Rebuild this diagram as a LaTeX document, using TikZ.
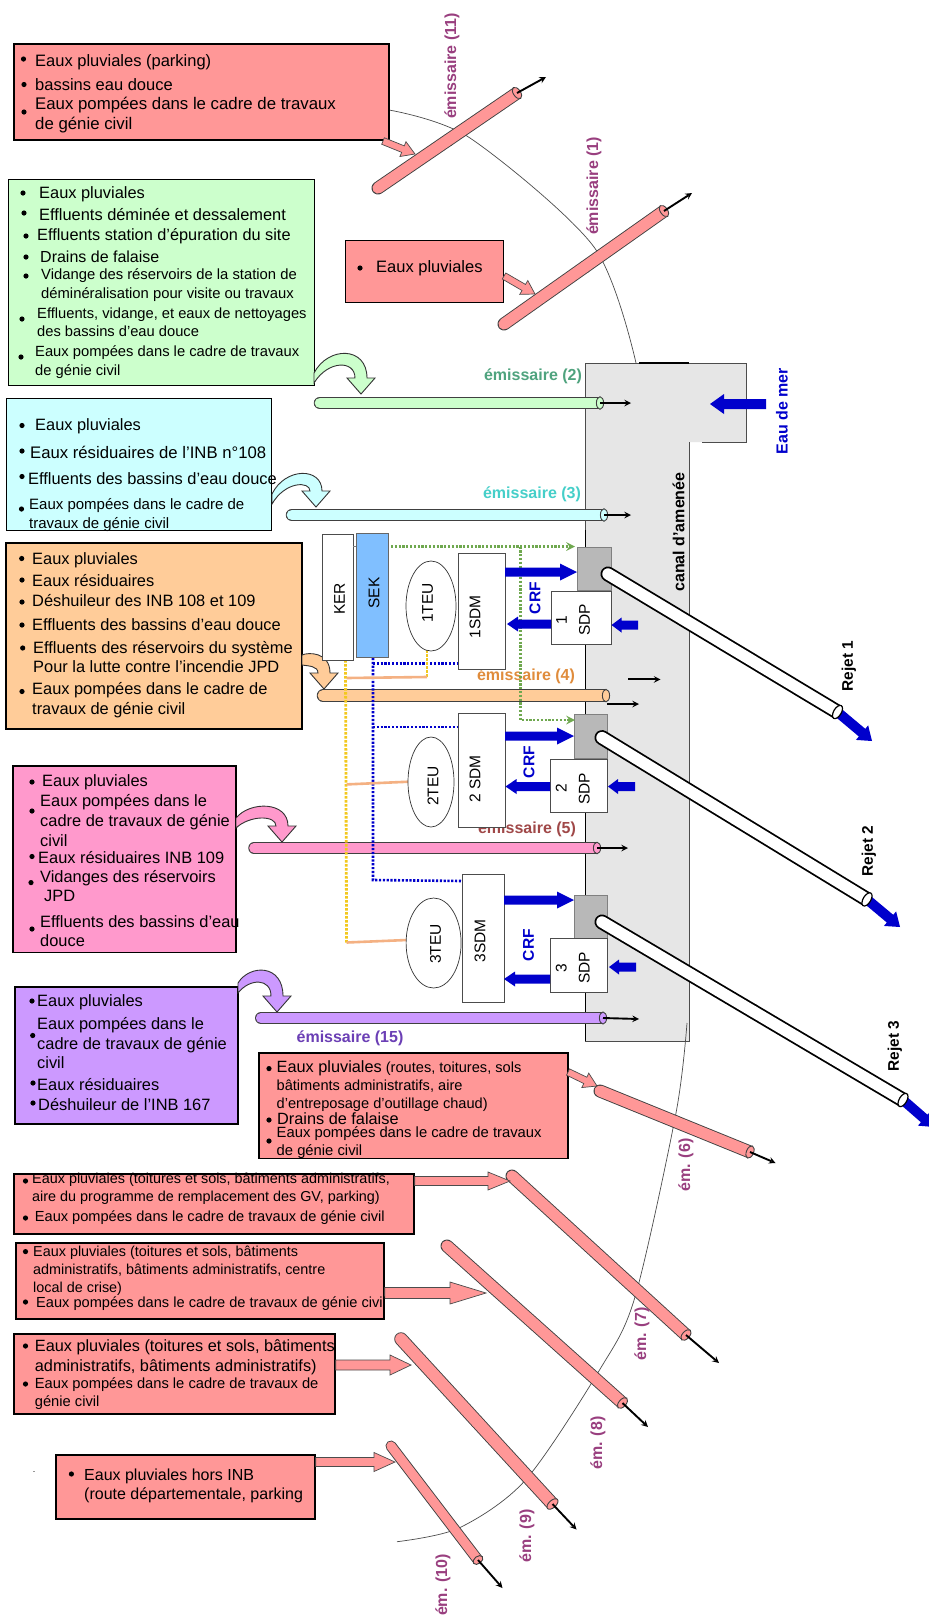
\documentclass[tikz,border=0pt]{standalone}
\usepackage{fontspec}
\setmainfont{Liberation Sans}
\usetikzlibrary{calc,shapes.geometric}
\newlength{\du}
\setlength{\du}{1pt}
\definecolor{rougeb}{HTML}{FF9797}
\definecolor{vertb}{HTML}{CCFFCC}
\definecolor{cyanb}{HTML}{CCFFFF}
\definecolor{orangeb}{HTML}{FFCC99}
\definecolor{roseb}{HTML}{FF99CC}
\definecolor{violetb}{HTML}{CC99FF}
\definecolor{canalgris}{HTML}{E6E6E6}
\definecolor{bleuf}{HTML}{0000CC}
\definecolor{prune}{HTML}{993F7F}
\definecolor{nomv}{HTML}{4FA37E}
\definecolor{nomc}{HTML}{45CFC9}
\definecolor{nomo}{HTML}{E08C3C}
\definecolor{nomr}{HTML}{A04848}
\definecolor{nomw}{HTML}{6B3FB5}
\definecolor{jaunep}{HTML}{F2C81E}
\definecolor{saumonl}{HTML}{F4B183}
\definecolor{vertp}{HTML}{6FA84F}
\tikzset{
  boite/.style={rectangle,draw=black,line width=1.3pt,inner sep=0pt},
  equip/.style={rectangle,draw=black!70,line width=.7pt,fill=white,inner sep=0pt,text=black},
  teu/.style={ellipse,draw=black!80,line width=.7pt,fill=white,inner sep=0pt},
  vertical/.style={rotate=90,inner sep=0pt,align=center},
  nomem/.style={vertical,font=\fontsize{16}{18}\selectfont\bfseries,text=prune},
  nomh/.style={inner sep=0pt,font=\fontsize{16}{18}\selectfont\bfseries},
  sigle/.style={vertical,font=\fontsize{15.5}{23}\selectfont},
  sortie/.style={-stealth,line width=1.9pt,black},
  fluxb/.style={fill=bleuf,draw=none},
  flux/.style={fill=rougeb,draw=black!70,line width=.7pt},
  pointv/.style={line width=2.8pt,dash pattern=on 2.2pt off 1.6pt,color=vertp},
  pointb/.style={line width=2.6pt,dash pattern=on 2.2pt off 1.6pt,color=bleuf},
  pointj/.style={line width=2.8pt,dash pattern=on 2.6pt off 1.4pt,color=jaunep},
  saumon/.style={line width=2.6pt,color=saumonl},
}
% bullet item: name, text x, text y, bullet x, bullet y, size, text
\newcommand{\puce}[7]{%
  \pgfmathsetmacro{\lgn}{0.84*#6+5.8}
  \fill (#4,#5) circle (2.6);
  \node[anchor=west,align=left,inner sep=0pt,font=\fontsize{#6}{\lgn}\selectfont] (#1) at (#2,#3) {#7};
}
% pipe: start, end, fill, width
\newcommand{\tuyau}[4]{%
  \coordinate (tm) at ($(#1)!.5!(#2)$);
  \draw[line width=#4pt,black!75,line cap=round] (#1) -- (tm);
  \draw[line width=#4pt,black!75] (tm) -- (#2);
  \draw[line width=#4pt-1.8pt,#3,line cap=round] (#1) -- (tm);
  \draw[line width=#4pt-1.8pt,#3] (tm) -- (#2);
  \draw[black!75,line width=.9pt,fill=#3] let \p1=($(#2)-(#1)$), \n1={atan2(\y1,\x1)} in
    (#2) circle[x radius=3.6pt,y radius=#4pt/2,rotate=\n1];
}
% outlet pipe with a heavy edge
\newcommand{\rejet}[2]{%
  \coordinate (tm) at ($(#1)!.5!(#2)$);
  \draw[line width=15pt,black,line cap=round] (#1) -- (tm);
  \draw[line width=15pt,black] (tm) -- (#2);
  \draw[line width=11.4pt,white,line cap=round] (#1) -- (tm);
  \draw[line width=11.4pt,white] (tm) -- (#2);
  \draw[black,line width=1.2pt,fill=white] let \p1=($(#2)-(#1)$), \n1={atan2(\y1,\x1)} in
    (#2) circle[x radius=3.8pt,y radius=7.4pt,rotate=\n1];
}
% block arrow: options, start, tip, half shaft, half head, head length
\newcommand{\fleche}[6]{%
  \coordinate (fb) at ($(#3)!#6pt!(#2)$);
  \draw[#1] ($(#2)!#4pt!90:(#3)$) -- ($(fb)!#4pt!90:(#3)$) -- ($(fb)!#5pt!90:(#3)$) -- (#3)
    -- ($(fb)!#5pt!-90:(#3)$) -- ($(fb)!#4pt!-90:(#3)$) -- ($(#2)!#4pt!-90:(#3)$) -- cycle;
}
% bent arrow: fill, start, tip, height
\newcommand{\courbe}[4]{%
  \draw[black!80,line width=.9pt,fill=#1] let \p1=(#2), \p2=(#3) in
    (\x1,\y1+5pt) .. controls ({\x1+0.3*(\x2-\x1)},{\y1+#4pt}) and ({\x2+6pt},{\y1+#4pt}) .. ({\x2+6pt},{\y2+16pt})
    -- ({\x2+14pt},{\y2+16pt}) -- (\x2,\y2) -- ({\x2-14pt},{\y2+16pt}) -- ({\x2-6pt},{\y2+16pt})
    .. controls ({\x2-6pt},{\y1+#4pt-14pt}) and ({\x1+0.3*(\x2-\x1)},{\y1+#4pt-14pt}) .. (\x1,\y1-5pt) -- cycle;
}
\begin{document}
\begin{tikzpicture}[x=\du,y=-\du]
\clip (0,0) rectangle (929,1615);
\fill[white] (0,0) rectangle (929,1615);
% canal
\fill[canalgris] (585,363) -- (746,363) -- (746,442) -- (689,442) -- (689,1041) -- (585,1041) -- cycle;
\draw[black!70,line width=.8pt] (702,442) -- (746,442) -- (746,363) -- (585,363) -- (585,530);
\draw[black!70,line width=.8pt] (689,442) -- (689,1041) -- (585,1041);
\draw[line width=1.2pt] (639,363) -- (689,363);
\draw[line width=.9pt] (585,530) -- (585,1041);
% arcs
\draw[black!70,line width=.7pt] plot[smooth] coordinates {(389,110) (470,138) (594,247) (636,363)};
\draw[black!70,line width=.7pt] plot[smooth] coordinates {(687,1023) (676,1113) (635,1297) (599.5,1370) (525.5,1480) (459,1528) (397,1541.7)};
% boxes
\node[boite,fill=rougeb,minimum width=375,minimum height=96] (b11) at (201.5,92) {};
\node[boite,line width=.8pt,fill=rougeb,minimum width=158,minimum height=62] (b1) at (424,271) {};
\node[boite,line width=.8pt,fill=vertb,minimum width=306,minimum height=206] (b2) at (161,282) {};
\node[boite,line width=.8pt,fill=cyanb,minimum width=265,minimum height=132] (b3) at (139,464) {};
\node[boite,fill=orangeb,minimum width=296,minimum height=186] (b4) at (154,636) {};
\node[boite,fill=roseb,minimum width=223,minimum height=186.5] (b5) at (124.5,859.25) {};
\node[boite,fill=violetb,minimum width=223,minimum height=137] (b15) at (126.5,1055.5) {};
\node[boite,fill=rougeb,minimum width=309,minimum height=105.5] (b6) at (413.5,1105.75) {};
\node[boite,fill=rougeb,minimum width=400,minimum height=60] (b7) at (214,1204) {};
\node[boite,fill=rougeb,minimum width=368,minimum height=76] (b8) at (200,1281) {};
\node[boite,fill=rougeb,minimum width=321,minimum height=80] (b9) at (174.5,1374) {};
\node[boite,fill=rougeb,minimum width=259,minimum height=64] (b10) at (185.5,1487) {};
% pipes
\coordinate (p11a) at (378,188); \coordinate (p11b) at (517,93); \coordinate (s11) at (546,77);
\tuyau{p11a}{p11b}{rougeb}{13}
\draw[sortie] (p11b) -- (s11);
\coordinate (p1a) at (504,324); \coordinate (p1b) at (664,211); \coordinate (s1) at (692,193);
\tuyau{p1a}{p1b}{rougeb}{13}
\draw[sortie] (p1b) -- (s1);
\coordinate (p2a) at (320,403); \coordinate (p2b) at (600,403); \coordinate (s2) at (631,403);
\tuyau{p2a}{p2b}{vertb}{12.5}
\draw[sortie] (p2b) -- (s2);
\coordinate (p3a) at (292,515); \coordinate (p3b) at (604,515); \coordinate (s3) at (631,515);
\tuyau{p3a}{p3b}{cyanb}{12.5}
\draw[sortie] (p3b) -- (s3);
\coordinate (p4a) at (323,695.6); \coordinate (p4b) at (606,695.6);
\tuyau{p4a}{p4b}{orangeb}{12.5}
\coordinate (s4a) at (607,704); \coordinate (s4b) at (639,704);
\draw[sortie] (s4a) -- (s4b);
\coordinate (s4c) at (628,679.4); \coordinate (s4d) at (660.5,679.4);
\draw[sortie] (s4c) -- (s4d);
\coordinate (p5a) at (254,848); \coordinate (p5b) at (597,848); \coordinate (s5) at (628,848);
\tuyau{p5a}{p5b}{roseb}{11.5}
\draw[sortie] (p5b) -- (s5);
\coordinate (p15a) at (261,1018); \coordinate (p15b) at (603,1018); \coordinate (s15) at (639,1019);
\tuyau{p15a}{p15b}{violetb}{12}
\draw[sortie] (p15b) -- (s15);
\coordinate (p6a) at (600,1091); \coordinate (p6b) at (750,1152); \coordinate (s6) at (775.5,1163);
\tuyau{p6a}{p6b}{rougeb}{13}
\draw[sortie] (p6b) -- (s6);
\coordinate (p7a) at (512,1176); \coordinate (p7b) at (686,1335); \coordinate (s7) at (719,1363);
\tuyau{p7a}{p7b}{rougeb}{13}
\draw[sortie] (p7b) -- (s7);
\coordinate (p8a) at (447,1246); \coordinate (p8b) at (622.5,1403); \coordinate (s8) at (648,1427);
\tuyau{p8a}{p8b}{rougeb}{13}
\draw[sortie] (p8b) -- (s8);
\coordinate (p9a) at (401,1339); \coordinate (p9b) at (552.5,1504); \coordinate (s9) at (576.5,1529.5);
\tuyau{p9a}{p9b}{rougeb}{13.5}
\draw[sortie] (p9b) -- (s9);
\coordinate (p10a) at (391,1446); \coordinate (p10b) at (478,1560); \coordinate (s10) at (502.5,1588);
\tuyau{p10a}{p10b}{rougeb}{11}
\draw[sortie] (p10b) -- (s10);
% block arrows into the pipes
\coordinate (f11a) at (383,141); \coordinate (f11b) at (415,154);
\fleche{flux}{f11a}{f11b}{3.5}{8}{13}
\coordinate (f1a) at (504,276); \coordinate (f1b) at (535,294);
\fleche{flux}{f1a}{f1b}{3.5}{8}{13}
\coordinate (f6a) at (568,1072); \coordinate (f6b) at (597,1086);
\fleche{flux}{f6a}{f6b}{3.5}{8}{13}
\coordinate (f7b) at (510,1181);
\fleche{flux}{b7.east |- f7b}{f7b}{4.5}{9}{22}
\coordinate (f8b) at (486,1293);
\fleche{flux}{b8.east |- f8b}{f8b}{5.5}{11}{36}
\coordinate (f9b) at (411,1365);
\fleche{flux}{b9.east |- f9b}{f9b}{5}{10}{21}
\coordinate (f10b) at (395,1462);
\fleche{flux}{b10.east |- f10b}{f10b}{4.5}{9.5}{21}
% bent arrows
\coordinate (c2a) at (314,378); \coordinate (c2b) at (361,394);
\courbe{vertb}{c2a}{c2b}{32}
\coordinate (c3a) at (272,499); \coordinate (c3b) at (316,507);
\courbe{cyanb}{c3a}{c3b}{32}
\coordinate (c4a) at (302,660); \coordinate (c4b) at (324,689);
\courbe{orangeb}{c4a}{c4b}{8}
\coordinate (c5a) at (236,823); \coordinate (c5b) at (282,842);
\courbe{roseb}{c5a}{c5b}{22}
\coordinate (c15a) at (238,988); \coordinate (c15b) at (277,1012);
\courbe{violetb}{c15a}{c15b}{24}
% labels of the pipes
\node[nomem] (n11) at (452,66) {émissaire (11)};
\node[nomem] (n1) at (594,186) {émissaire (1)};
\node[nomh,text=nomv] (n2) at (533,376) {émissaire (2)};
\node[nomh,text=nomc] (n3) at (532,494) {émissaire (3)};
\node[nomh,text=nomo] (n4) at (526,676) {émissaire (4)};
\node[nomh,text=nomr] (n5) at (527,829.5) {émissaire (5)};
\node[nomh,text=nomw] (n15) at (350,1038) {émissaire (15)};
\node[nomem] (n6) at (686,1165) {ém. (6)};
\node[nomem] (n7) at (642,1334) {ém. (7)};
\node[nomem] (n8) at (598,1443) {ém. (8)};
\node[nomem] (n9) at (527,1536) {ém. (9)};
\node[nomem] (n10) at (443,1585) {ém. (10)};
\node[vertical,font=\fontsize{16}{18}\selectfont\bfseries] (nc) at (678.6,532) {canal d’amenée};
\coordinate (m1) at (766,404); \coordinate (m2) at (710,404);
\fleche{fluxb}{m1}{m2}{5}{10}{14}
\node[vertical,font=\fontsize{16}{18}\selectfont\bfseries,text=bleuf] (nm) at (782,411) {Eau de mer};
% rejects
\coordinate (r1a) at (608,574); \coordinate (r1b) at (837.5,712); \coordinate (r1c) at (872,741);
\coordinate (r2a) at (602,737.6); \coordinate (r2b) at (867,899.4); \coordinate (r2c) at (900,927);
\coordinate (r3a) at (602,922); \coordinate (r3b) at (903,1100); \coordinate (r3c) at (934,1127);
% grey chambers
\node[equip,fill=black!28,draw=black!50,minimum width=33.5,minimum height=43.5] (g1) at (594.25,568.75) {};
\node[equip,fill=black!28,draw=black!50,minimum width=33.5,minimum height=44] (g2) at (590.75,736) {};
\node[equip,fill=black!28,draw=black!50,minimum width=33.5,minimum height=43] (g3) at (590.75,916.5) {};
\fleche{fluxb}{r1b}{r1c}{5}{9.5}{13}
\rejet{r1a}{r1b}
\fleche{fluxb}{r2b}{r2c}{5}{9.5}{13}
\rejet{r2a}{r2b}
\fleche{fluxb}{r3b}{r3c}{5}{9.5}{13}
\rejet{r3a}{r3b}
\node[vertical,font=\fontsize{15.4}{18}\selectfont\bfseries] (nr1) at (849,666) {Rejet 1};
\node[vertical,font=\fontsize{15.4}{18}\selectfont\bfseries] (nr2) at (869,851) {Rejet 2};
\node[vertical,font=\fontsize{15.4}{18}\selectfont\bfseries] (nr3) at (895,1046) {Rejet 3};
% dotted lines
\coordinate (v1) at (391,546.5); \coordinate (v2) at (520.5,546.5); \coordinate (v3) at (575,546.5);
\coordinate (v4) at (520.5,720); \coordinate (v5) at (575,720);
\draw[pointv,-stealth] (v1) -- (v3);
\draw[pointv,-stealth] (v2) -- (v4) -- (v5);
\coordinate (bl1) at (373,658); \coordinate (bl2) at (373,663.5); \coordinate (bl3) at (457,663.5);
\coordinate (bl4) at (373,727); \coordinate (bl5) at (457,727); \coordinate (bl6) at (373,880); \coordinate (bl7) at (462,881);
\draw[pointb] (bl1) -- (bl6) -- (bl7);
\draw[pointb] (bl2) -- (bl3);
\draw[pointb] (bl4) -- (bl5);
\coordinate (j1) at (345.5,660); \coordinate (j2) at (346.6,942.5); \coordinate (j3) at (427,650); \coordinate (j4) at (427,677);
\coordinate (j5) at (346.6,678); \coordinate (j6) at (346.6,784.4); \coordinate (j7) at (408.7,781.7); \coordinate (j8) at (406.7,940);
\draw[pointj] (j1) -- (j2);
\draw[pointj] (j3) -- (j4);
\draw[saumon] (j5) -- (j4);
\draw[saumon] (j6) -- (j7);
\draw[saumon] (j2) -- (j8);
% equipment
\node[equip,minimum width=30.5,minimum height=126] (ker) at (337.75,597) {};
\node[equip,fill=blue!50!cyan!50!white,draw=black!60,minimum width=31.5,minimum height=124] (sek) at (372.25,595) {};
\draw[black!50,line width=1pt] (ker.east |- v1) -- (sek.west |- v1);
\node[teu,minimum width=50,minimum height=90] (t1) at (431,606) {};
\node[teu,minimum width=46,minimum height=90] (t2) at (431,782) {};
\node[teu,minimum width=55,minimum height=90] (t3) at (433.6,943) {};
\node[equip,minimum width=47,minimum height=116] (sdm1) at (481.5,611) {};
\node[equip,minimum width=47,minimum height=113.5] (sdm2) at (481.5,770.25) {};
\node[equip,minimum width=41.5,minimum height=128] (sdm3) at (483.25,938) {};
\node[equip,minimum width=60,minimum height=53] (sdp1) at (581,617.5) {};
\node[equip,minimum width=57.5,minimum height=53] (sdp2) at (578.75,785.5) {};
\node[equip,minimum width=57.5,minimum height=54] (sdp3) at (578.75,965) {};
\node[sigle] (tker) at (339.5,599) {KER};
\node[sigle] (tsek) at (374,593) {SEK};
\node[sigle] (tt1) at (427.7,603) {1TEU};
\node[sigle] (tt2) at (433,786) {2TEU};
\node[sigle] (tt3) at (435.6,944) {3TEU};
\node[sigle] (tm1) at (475,617) {1SDM};
\node[sigle] (tm2) at (475,779) {2 SDM};
\node[sigle] (tm3) at (480,941) {3SDM};
\node[sigle] (tp1) at (573,620) {1\\SDP};
\node[sigle] (tp2) at (572.7,788.6) {2\\SDP};
\node[sigle] (tp3) at (572.7,968) {3\\SDP};
% blue arrows
\coordinate (a1) at (505,572); \coordinate (a2) at (577,572);
\fleche{fluxb}{a1}{a2}{4.5}{8.5}{17}
\coordinate (a3) at (551,624); \coordinate (a4) at (507,624);
\fleche{fluxb}{a3}{a4}{4.5}{7.5}{11}
\coordinate (a5) at (638,625); \coordinate (a6) at (611.5,625);
\fleche{fluxb}{a5}{a6}{4.5}{7.5}{10}
\coordinate (a7) at (505,736); \coordinate (a8) at (574,736);
\fleche{fluxb}{a7}{a8}{4.5}{8.5}{17}
\coordinate (a9) at (550,786.5); \coordinate (a10) at (505.5,786.5);
\fleche{fluxb}{a9}{a10}{4.5}{7.5}{11}
\coordinate (a11) at (635,786.5); \coordinate (a12) at (608,786.5);
\fleche{fluxb}{a11}{a12}{4.5}{7.5}{10}
\coordinate (a13) at (504,900); \coordinate (a14) at (574,900);
\fleche{fluxb}{a13}{a14}{4.5}{8.5}{17}
\coordinate (a15) at (550,979); \coordinate (a16) at (504,979);
\fleche{fluxb}{a15}{a16}{4.5}{7.5}{11}
\coordinate (a17) at (636,967); \coordinate (a18) at (609,967);
\fleche{fluxb}{a17}{a18}{4.5}{7.5}{10}
\node[vertical,font=\fontsize{15.6}{18}\selectfont\bfseries,text=bleuf] (crf1) at (535,598) {CRF};
\node[vertical,font=\fontsize{15.6}{18}\selectfont\bfseries,text=bleuf] (crf2) at (529,762) {CRF};
\node[vertical,font=\fontsize{15.6}{18}\selectfont\bfseries,text=bleuf] (crf3) at (528.5,945) {CRF};
% texts of the boxes
\puce{l11a}{35}{62}{23.5}{59}{16.5}{Eaux pluviales (parking)}
\puce{l11b}{35}{84.5}{24}{84.5}{16.5}{bassins eau douce}
\puce{l11c}{35}{115.4}{24}{112}{16.8}{Eaux pompées dans le cadre de travaux\\de génie civil}
\puce{l1a}{376}{268}{360}{268}{16.5}{Eaux pluviales}
\puce{l2a}{39}{194}{23}{193}{16.4}{Eaux pluviales}
\puce{l2b}{39}{215}{24}{213}{16.4}{Effluents déminée et dessalement}
\puce{l2c}{37}{236}{26}{236}{16.3}{Effluents station d’épuration du site}
\puce{l2d}{40}{256.5}{26}{257}{16}{Drains de falaise}
\puce{l2e}{41}{285}{26}{276}{14.8}{Vidange des réservoirs de la station de\\déminéralisation pour visite ou travaux}
\puce{l2f}{37}{322}{22}{319}{14.7}{Effluents, vidange, et eaux de nettoyages\\des bassins d’eau douce}
\puce{l2g}{35}{362}{21}{357}{14.75}{Eaux pompées dans le cadre de travaux\\de génie civil}
\puce{l3a}{35}{426}{22}{425.5}{16.4}{Eaux pluviales}
\puce{l3b}{30}{452}{22}{451}{16.7}{Eaux résiduaires de l’INB n°108}
\puce{l3c}{28}{478.6}{22}{476.5}{16.4}{Effluents des bassins d’eau douce}
\puce{l3d}{29}{515}{21.5}{509}{15}{Eaux pompées dans le cadre de\\travaux de génie civil}
\puce{l4a}{32}{560}{21.7}{558.5}{16.4}{Eaux pluviales}
\puce{l4b}{32}{581}{22}{580}{16.4}{Eaux résiduaires}
\puce{l4c}{32}{601}{22}{602}{16.4}{Déshuileur des INB 108 et 109}
\puce{l4d}{32}{625}{22}{625}{16.4}{Effluents des bassins d’eau douce}
\puce{l4e}{33}{657}{22.7}{648}{16.4}{Effluents des réservoirs du système\\Pour la lutte contre l’incendie JPD}
\puce{l4f}{32}{700}{22}{691.5}{16.4}{Eaux pompées dans le cadre de\\travaux de génie civil}
\puce{l5a}{42}{782}{32}{782}{16.4}{Eaux pluviales}
\puce{l5b}{40}{820.6}{32}{811}{16.4}{Eaux pompées dans le\\cadre de travaux de génie\\civil}
\puce{l5c}{38}{857.5}{32}{856.5}{16.4}{Eaux résiduaires INB 109}
\puce{l5d}{40}{886}{31}{882.6}{16.4}{Vidanges des réservoirs\\\hspace{4pt}JPD}
\puce{l5e}{40}{931}{32}{929}{16.4}{Effluents des bassins d’eau\\douce}
\puce{l15a}{37}{1002}{32}{1001}{16.4}{Eaux pluviales}
\puce{l15b}{37}{1043.4}{32.7}{1035.5}{16.4}{Eaux pompées dans le\\cadre de travaux de génie\\civil}
\puce{l15c}{37}{1085}{33}{1083}{16.4}{Eaux résiduaires}
\puce{l15d}{38}{1104.5}{33}{1103}{16.4}{Déshuileur de l’INB 167}
\puce{l6a}{276.5}{1086}{269}{1068.6}{14.6}{{\fontsize{16.3}{17.5}\selectfont Eaux pluviales} (routes, toitures, sols\\bâtiments administratifs, aire\\d’entreposage d’outillage chaud)}
\puce{l6b}{277}{1119}{269}{1120}{16.3}{Drains de falaise}
\puce{l6c}{276.5}{1142.5}{269}{1141}{14.8}{Eaux pompées dans le cadre de travaux\\de génie civil}
\puce{l7a}{32}{1189}{25.5}{1181}{14.4}{Eaux pluviales (toitures et sols, bâtiments administratifs,\\aire du programme de remplacement des GV, parking)}
\puce{l7b}{34.7}{1218}{25.5}{1218}{14.6}{Eaux pompées dans le cadre de travaux de génie civil}
\puce{l8a}{33}{1271}{25.5}{1251.6}{14.4}{Eaux pluviales (toitures et sols, bâtiments\\administratifs, bâtiments administratifs, centre\\local de crise)}
\puce{l8b}{36}{1303.7}{25.5}{1302}{14.6}{Eaux pompées dans le cadre de travaux de génie civil}
\puce{l9a}{34.7}{1357}{25.5}{1346}{16.3}{Eaux pluviales (toitures et sols, bâtiments\\administratifs, bâtiments administratifs)}
\puce{l9b}{34.7}{1394}{25.5}{1384}{14.7}{Eaux pompées dans le cadre de travaux de\\génie civil}
\puce{l10a}{84}{1485.5}{71.4}{1474}{16}{Eaux pluviales hors INB\\(route départementale, parking}
\node[inner sep=0pt,font=\fontsize{9}{10}\selectfont] (pt) at (34,1472) {.};
\end{tikzpicture}
\end{document}
